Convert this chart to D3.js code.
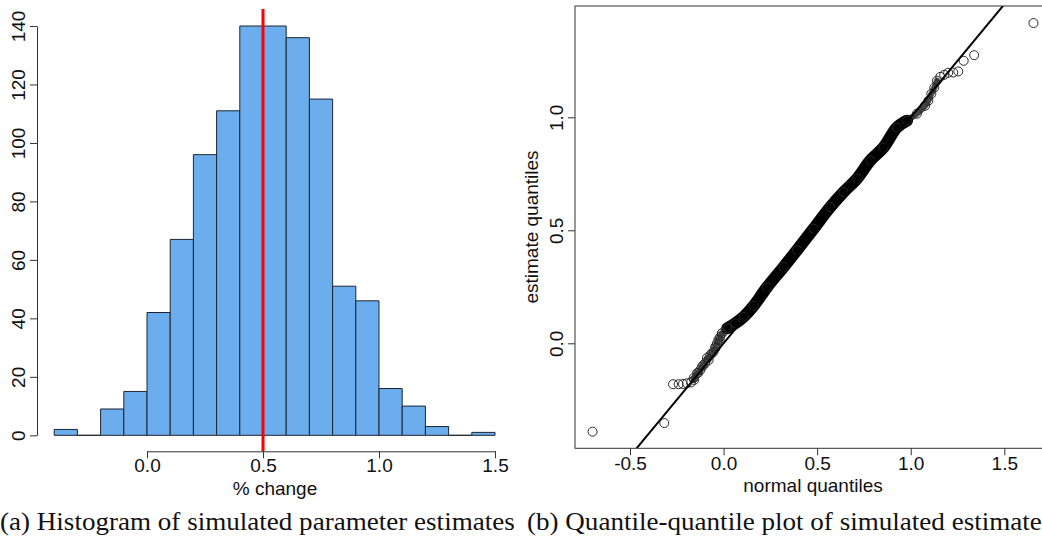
<!DOCTYPE html>
<html>
<head>
<meta charset="utf-8">
<script src="https://cdn.jsdelivr.net/npm/d3@7"></script>
<style>
  body { margin: 0; background: #fff; }
  svg { display: block; }
</style>
</head>
<body>
<svg id="chart"></svg>
<script>
// (a) histogram of the simulated estimates, bins of width 0.1
const breaks = [-0.4, -0.3, -0.2, -0.1, 0.0, 0.1, 0.2, 0.3, 0.4, 0.5, 0.6, 0.7, 0.8, 0.9, 1.0, 1.1, 1.2, 1.3, 1.4, 1.5];
const counts = [2, 0, 9, 15, 42, 67, 96, 111, 140, 140, 136, 115, 51, 46, 16, 10, 3, 0, 1];
const trueValue = 0.5;
const histXTicks = [0, 0.5, 1, 1.5];
const histYTicks = [0, 20, 40, 60, 80, 100, 120, 140];

// (b) qq plot: sparse points in the tails, read one by one
const lowNormal    = [-0.700, -0.317, -0.270, -0.240, -0.217, -0.196, -0.174, -0.160, -0.157, -0.142, -0.135, -0.124, -0.115, -0.108, -0.098, -0.089, -0.080, -0.071, -0.062, -0.053, -0.044, -0.044, -0.035, -0.028, -0.021, -0.018, -0.009];
const lowEstimate  = [-0.391, -0.353, -0.181, -0.181, -0.180, -0.177, -0.173, -0.154, -0.162, -0.132, -0.131, -0.118, -0.103, -0.096, -0.088, -0.065, -0.074, -0.052, -0.043, -0.037, -0.022, -0.015, 0.000, 0.015, 0.015, 0.029, 0.044];
const highNormal   = [1.077, 1.094, 1.110, 1.126, 1.140, 1.158, 1.179, 1.200, 1.227, 1.254, 1.283, 1.339, 1.656];
const highEstimate = [1.051, 1.073, 1.104, 1.131, 1.162, 1.179, 1.188, 1.197, 1.198, 1.203, 1.250, 1.275, 1.417];
// dense middle part, where the circles merge into one black band
const bandNormal   = [-0.009, 0.020, 0.062, 0.107, 0.160, 0.232, 0.321, 0.392, 0.481, 0.570, 0.641, 0.713, 0.784, 0.855, 0.926, 0.980, 1.033];
const bandEstimate = [0.044, 0.067, 0.088, 0.117, 0.165, 0.248, 0.338, 0.412, 0.507, 0.603, 0.669, 0.729, 0.809, 0.867, 0.955, 0.985, 1.016];
const qqXTicks = [-0.5, 0, 0.5, 1, 1.5];
const qqYTicks = [0, 0.5, 1];

const captions = ["(a) Histogram of simulated parameter estimates", "(b) Quantile-quantile plot of simulated estimates"];

const W = 1042, H = 539;
const sans = '"Liberation Sans", Arial, sans-serif';
const serif = '"Liberation Serif", "Times New Roman", serif';
const fs = 19;
const axisColor = "#333";

const svg = d3.select("#chart").attr("width", W).attr("height", H);
const fmt = d => d.toFixed(1);

function styleAxis(g) {
  g.attr("font-family", sans).attr("font-size", fs);
  g.selectAll("path, line").attr("stroke", axisColor);
  g.selectAll("text").attr("fill", "#111");
}

// ---------- histogram ----------
let xH = d3.scaleLinear().domain([0, 1.5]).range([147, 495]);
let yH = d3.scaleLinear().domain([0, 140]).range([435.3, 26]);

let bins = counts.map((c, i) => ({x0: breaks[i], x1: breaks[i + 1], n: c}));

svg.append("g")
  .selectAll("path")
  .data(bins)
  .enter()
  .append("path")
  .attr("d", d => `M${xH(d.x0)},${yH(0)}V${yH(d.n)}H${xH(d.x1)}V${yH(0)}Z`)
  .attr("fill", "#6CADED")
  .attr("stroke", "#1d2630")
  .attr("stroke-width", 1);

svg.append("line")
  .attr("x1", xH(trueValue)).attr("x2", xH(trueValue))
  .attr("y1", 9).attr("y2", 451.3)
  .attr("stroke", "#ff0000")
  .attr("stroke-width", 3);

let gxH = svg.append("g")
  .attr("transform", "translate(0,451.3)")
  .call(d3.axisBottom(xH).tickValues(histXTicks).tickFormat(fmt).tickSize(7).tickSizeOuter(0));
styleAxis(gxH);
gxH.selectAll(".tick text").attr("y", 21).attr("dy", null);

let gyH = svg.append("g")
  .attr("transform", "translate(37,0)")
  .call(d3.axisLeft(yH).tickValues(histYTicks).tickSize(7).tickSizeOuter(0));
styleAxis(gyH);
gyH.selectAll(".tick text")
  .attr("x", null).attr("dy", null)
  .attr("text-anchor", "middle")
  .attr("transform", "translate(-12,0) rotate(-90)");

svg.append("text")
  .attr("x", 275).attr("y", 495)
  .attr("text-anchor", "middle")
  .attr("font-family", sans).attr("font-size", fs)
  .attr("fill", "#111")
  .text("% change");

// ---------- qq plot ----------
let xQ = d3.scaleLinear().domain([-0.5, 1.5]).range([630, 1004.3]);
let yQ = d3.scaleLinear().domain([0, 1]).range([343.3, 117.3]);
const box = {left: 575, right: 1052, top: 6, bottom: 448.3};

svg.append("clipPath").attr("id", "qqclip")
  .append("rect")
  .attr("x", box.left).attr("y", box.top)
  .attr("width", box.right - box.left).attr("height", box.bottom - box.top);

let plot = svg.append("g").attr("clip-path", "url(#qqclip)");

let band = bandNormal.map((v, i) => [v, bandEstimate[i]]);
let low = lowNormal.map((v, i) => [v, lowEstimate[i]]);
let high = highNormal.map((v, i) => [v, highEstimate[i]]);

let qqLine = d3.line().x(d => xQ(d[0])).y(d => yQ(d[1])).curve(d3.curveCatmullRom);

// where circles overlap a lot they read as a grey chain...
plot.append("path")
  .attr("d", qqLine(low.slice(7).concat(band.slice(0, 2))))
  .attr("fill", "none")
  .attr("stroke", "#444")
  .attr("stroke-width", 6)
  .attr("stroke-linecap", "round")
  .attr("stroke-linejoin", "round");

plot.append("path")
  .attr("d", qqLine(band.slice(13).concat(high.slice(0, 5))))
  .attr("fill", "none")
  .attr("stroke", "#444")
  .attr("stroke-width", 6)
  .attr("stroke-linecap", "round")
  .attr("stroke-linejoin", "round");

// ...and in the middle as one thick black stroke
plot.append("path")
  .attr("d", qqLine(band.slice(1, 16)))
  .attr("fill", "none")
  .attr("stroke", "#000")
  .attr("stroke-width", 12)
  .attr("stroke-linecap", "round")
  .attr("stroke-linejoin", "round");

plot.append("g")
  .selectAll("circle")
  .data(low.concat(band, high))
  .enter()
  .append("circle")
  .attr("cx", d => xQ(d[0]))
  .attr("cy", d => yQ(d[1]))
  .attr("r", 4.5)
  .attr("fill", "none")
  .attr("stroke", "#2a2a2a")
  .attr("stroke-width", 1);

// reference line y = x
plot.append("line")
  .attr("x1", xQ(-1)).attr("y1", yQ(-1))
  .attr("x2", xQ(2)).attr("y2", yQ(2))
  .attr("stroke", "#000")
  .attr("stroke-width", 2);

svg.append("rect")
  .attr("x", box.left).attr("y", box.top)
  .attr("width", box.right - box.left).attr("height", box.bottom - box.top)
  .attr("fill", "none")
  .attr("stroke", axisColor);

let gxQ = svg.append("g")
  .attr("transform", `translate(0,${box.bottom})`)
  .call(d3.axisBottom(xQ).tickValues(qqXTicks).tickFormat(fmt).tickSize(7).tickSizeOuter(0));
styleAxis(gxQ);
gxQ.select(".domain").remove();
gxQ.selectAll(".tick text").attr("y", 21.5).attr("dy", null);

let gyQ = svg.append("g")
  .attr("transform", `translate(${box.left},0)`)
  .call(d3.axisLeft(yQ).tickValues(qqYTicks).tickFormat(fmt).tickSize(7).tickSizeOuter(0));
styleAxis(gyQ);
gyQ.select(".domain").remove();
gyQ.selectAll(".tick text")
  .attr("x", null).attr("dy", null)
  .attr("text-anchor", "middle")
  .attr("transform", "translate(-12,0) rotate(-90)");

svg.append("text")
  .attr("x", 813).attr("y", 491.5)
  .attr("text-anchor", "middle")
  .attr("font-family", sans).attr("font-size", fs)
  .attr("fill", "#111")
  .text("normal quantiles");

svg.append("text")
  .attr("transform", "translate(538,227) rotate(-90)")
  .attr("text-anchor", "middle")
  .attr("font-family", sans).attr("font-size", fs)
  .attr("fill", "#111")
  .text("estimate quantiles");

// ---------- captions (LaTeX style, a bit wide) ----------
let cap = svg.append("g");
let capA = cap.append("text")
  .attr("x", 0).attr("y", 530)
  .attr("font-family", serif)
  .attr("font-size", 25)
  .attr("fill", "#111")
  .text(captions[0]);
let sx = 515 / capA.node().getComputedTextLength();
cap.attr("transform", `scale(${sx},1)`);
cap.append("text")
  .attr("x", 527 / sx).attr("y", 530)
  .attr("font-family", serif)
  .attr("font-size", 25)
  .attr("fill", "#111")
  .text(captions[1]);
</script>
</body>
</html>
